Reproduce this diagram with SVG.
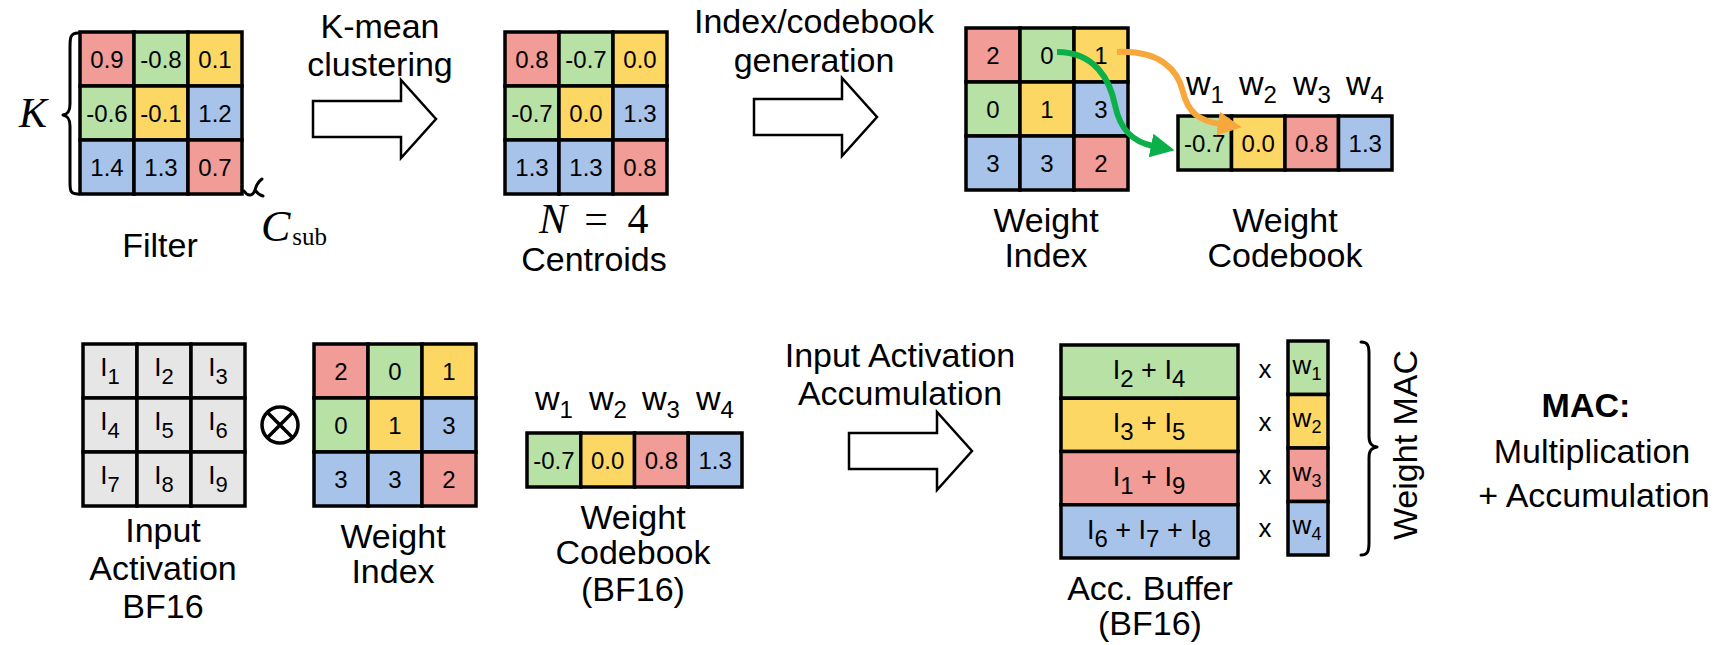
<svg xmlns="http://www.w3.org/2000/svg" width="1721" height="645" viewBox="0 0 1721 645">
  <style>
    .r{fill:#f29c97}.g{fill:#b8e1a6}.y{fill:#fdd764}.b{fill:#a7c3ea}.k{fill:#e6e6e6}
    .cell{stroke:#000;stroke-width:3.5}
    .v{font-family:"Liberation Sans",Arial,sans-serif;font-size:24px;text-anchor:middle;fill:#000}
    .lbl{font-family:"Liberation Sans",Arial,sans-serif;font-size:34px;text-anchor:middle;fill:#000}
    .math{font-family:"Liberation Serif","Times New Roman",serif;fill:#000}
    .big{fill:#fff;stroke:#000;stroke-width:2.5;stroke-linejoin:miter}
    .line{fill:none;stroke:#000;stroke-width:3;stroke-linecap:round;stroke-linejoin:round}
  </style>
  <defs>
    <path id="fatArrow" d="M0,-18 L88,-18 L88,-39 L123,0 L88,39 L88,18 L0,18 Z"/>
    <marker id="headGreen" markerUnits="userSpaceOnUse" markerWidth="26" markerHeight="26" refX="2" refY="12" orient="auto" viewBox="0 0 26 24">
      <path d="M0,0 L24,12 L0,24 Z" fill="#0bb04b"/>
    </marker>
    <marker id="headOrange" markerUnits="userSpaceOnUse" markerWidth="26" markerHeight="26" refX="2" refY="12" orient="auto" viewBox="0 0 26 24">
      <path d="M0,0 L24,12 L0,24 Z" fill="#f7a73c"/>
    </marker>
  </defs>
  <rect width="1721" height="645" fill="#fff"/>

  <!-- Filter -->
  <g id="filter">
    <g transform="translate(80,32)">
      <rect class="cell r" x="0" y="0" width="54" height="54"/><rect class="cell g" x="54" y="0" width="54" height="54"/><rect class="cell y" x="108" y="0" width="54" height="54"/>
      <rect class="cell g" x="0" y="54" width="54" height="54"/><rect class="cell y" x="54" y="54" width="54" height="54"/><rect class="cell b" x="108" y="54" width="54" height="54"/>
      <rect class="cell b" x="0" y="108" width="54" height="54"/><rect class="cell b" x="54" y="108" width="54" height="54"/><rect class="cell r" x="108" y="108" width="54" height="54"/>
      <text class="v" x="27" y="35.5">0.9</text><text class="v" x="81" y="35.5">-0.8</text><text class="v" x="135" y="35.5">0.1</text>
      <text class="v" x="27" y="89.5">-0.6</text><text class="v" x="81" y="89.5">-0.1</text><text class="v" x="135" y="89.5">1.2</text>
      <text class="v" x="27" y="143.5">1.4</text><text class="v" x="81" y="143.5">1.3</text><text class="v" x="135" y="143.5">0.7</text>
    </g>
    <!-- K brace -->
    <path class="line" d="M78,33 C70,33 70,38 70,48 L70,104 C70,111 68,114 63,115 C68,116 70,119 70,126 L70,182 C70,190 70,194 78,194" stroke-width="2.5"/>
    <text class="math" x="33" y="127" font-size="42" font-style="italic" text-anchor="middle">K</text>
    <!-- C_sub brace -->
    <path class="line" d="M244,191 C248,197 253,196 255,190 C256,186 258,182 262,179 M255,190 C257,193 260,195 263,196" stroke-width="2.5"/>
    <text class="math" x="261" y="241" font-size="44"><tspan font-style="italic">C</tspan><tspan font-size="25" dy="4" dx="2">sub</tspan></text>
    <text class="lbl" x="160" y="257">Filter</text>
  </g>

  <!-- Centroids -->
  <g id="centroids">
    <g transform="translate(505,32)">
      <rect class="cell r" x="0" y="0" width="54" height="54"/><rect class="cell g" x="54" y="0" width="54" height="54"/><rect class="cell y" x="108" y="0" width="54" height="54"/>
      <rect class="cell g" x="0" y="54" width="54" height="54"/><rect class="cell y" x="54" y="54" width="54" height="54"/><rect class="cell b" x="108" y="54" width="54" height="54"/>
      <rect class="cell b" x="0" y="108" width="54" height="54"/><rect class="cell b" x="54" y="108" width="54" height="54"/><rect class="cell r" x="108" y="108" width="54" height="54"/>
      <text class="v" x="27" y="35.5">0.8</text><text class="v" x="81" y="35.5">-0.7</text><text class="v" x="135" y="35.5">0.0</text>
      <text class="v" x="27" y="89.5">-0.7</text><text class="v" x="81" y="89.5">0.0</text><text class="v" x="135" y="89.5">1.3</text>
      <text class="v" x="27" y="143.5">1.3</text><text class="v" x="81" y="143.5">1.3</text><text class="v" x="135" y="143.5">0.8</text>
    </g>
    <text class="math" x="553" y="233" font-size="42" font-style="italic" text-anchor="middle">N</text>
    <text class="math" x="596" y="233" font-size="42" text-anchor="middle">=</text>
    <text class="math" x="638" y="233" font-size="42" text-anchor="middle">4</text>
    <text class="lbl" x="594" y="271">Centroids</text>
  </g>

  <!-- Weight index (top) -->
  <g id="weight-index-top">
    <g transform="translate(966,28)">
      <rect class="cell r" x="0" y="0" width="54" height="54"/><rect class="cell g" x="54" y="0" width="54" height="54"/><rect class="cell y" x="108" y="0" width="54" height="54"/>
      <rect class="cell g" x="0" y="54" width="54" height="54"/><rect class="cell y" x="54" y="54" width="54" height="54"/><rect class="cell b" x="108" y="54" width="54" height="54"/>
      <rect class="cell b" x="0" y="108" width="54" height="54"/><rect class="cell b" x="54" y="108" width="54" height="54"/><rect class="cell r" x="108" y="108" width="54" height="54"/>
      <text class="v" x="27" y="35.5">2</text><text class="v" x="81" y="35.5">0</text><text class="v" x="135" y="35.5">1</text>
      <text class="v" x="27" y="89.5">0</text><text class="v" x="81" y="89.5">1</text><text class="v" x="135" y="89.5">3</text>
      <text class="v" x="27" y="143.5">3</text><text class="v" x="81" y="143.5">3</text><text class="v" x="135" y="143.5">2</text>
    </g>
    <text class="lbl" x="1046" y="232">Weight</text>
    <text class="lbl" x="1046" y="267">Index</text>
  </g>

  <!-- Weight codebook (top) -->
  <g id="codebook-top">
    <g transform="translate(1178,116)">
      <rect class="cell g" x="0" y="0" width="53.5" height="54"/><rect class="cell y" x="53.5" y="0" width="53.5" height="54"/><rect class="cell r" x="107" y="0" width="53.5" height="54"/><rect class="cell b" x="160.5" y="0" width="53.5" height="54"/>
      <text class="v" x="26.75" y="35.5">-0.7</text><text class="v" x="80.25" y="35.5">0.0</text><text class="v" x="133.75" y="35.5">0.8</text><text class="v" x="187.25" y="35.5">1.3</text>
    </g>
    <text class="lbl" x="1205" y="95">w<tspan font-size="24" dy="8">1</tspan></text>
    <text class="lbl" x="1258" y="95">w<tspan font-size="24" dy="8">2</tspan></text>
    <text class="lbl" x="1312" y="95">w<tspan font-size="24" dy="8">3</tspan></text>
    <text class="lbl" x="1365" y="95">w<tspan font-size="24" dy="8">4</tspan></text>
    <text class="lbl" x="1285" y="232">Weight</text>
    <text class="lbl" x="1285" y="267">Codebook</text>
  </g>

  <!-- Step captions -->
  <g id="step-kmean">
    <text class="lbl" x="380" y="38">K-mean</text>
    <text class="lbl" x="380" y="76">clustering</text>
  </g>
  <g id="step-index">
    <text class="lbl" x="814" y="33">Index/codebook</text>
    <text class="lbl" x="814" y="72">generation</text>
  </g>

  <!-- Input activation -->
  <g id="input-activation">
    <g transform="translate(83,344)" font-family="Liberation Sans, Arial, sans-serif" text-anchor="middle">
      <rect class="cell k" x="0" y="0" width="54" height="54"/><rect class="cell k" x="54" y="0" width="54" height="54"/><rect class="cell k" x="108" y="0" width="54" height="54"/>
      <rect class="cell k" x="0" y="54" width="54" height="54"/><rect class="cell k" x="54" y="54" width="54" height="54"/><rect class="cell k" x="108" y="54" width="54" height="54"/>
      <rect class="cell k" x="0" y="108" width="54" height="54"/><rect class="cell k" x="54" y="108" width="54" height="54"/><rect class="cell k" x="108" y="108" width="54" height="54"/>
      <text x="27" y="32" font-size="26">I<tspan font-size="22" dy="8">1</tspan></text>
      <text x="81" y="32" font-size="26">I<tspan font-size="22" dy="8">2</tspan></text>
      <text x="135" y="32" font-size="26">I<tspan font-size="22" dy="8">3</tspan></text>
      <text x="27" y="86" font-size="26">I<tspan font-size="22" dy="8">4</tspan></text>
      <text x="81" y="86" font-size="26">I<tspan font-size="22" dy="8">5</tspan></text>
      <text x="135" y="86" font-size="26">I<tspan font-size="22" dy="8">6</tspan></text>
      <text x="27" y="140" font-size="26">I<tspan font-size="22" dy="8">7</tspan></text>
      <text x="81" y="140" font-size="26">I<tspan font-size="22" dy="8">8</tspan></text>
      <text x="135" y="140" font-size="26">I<tspan font-size="22" dy="8">9</tspan></text>
    </g>
    <text class="lbl" x="163" y="542">Input</text>
    <text class="lbl" x="163" y="580">Activation</text>
    <text class="lbl" x="163" y="618">BF16</text>
  </g>

  <!-- Convolution operator -->
  <g id="otimes">
    <circle cx="280" cy="425" r="18" fill="none" stroke="#000" stroke-width="3.5"/>
    <path d="M267.3,412.3 L292.7,437.7 M292.7,412.3 L267.3,437.7" stroke="#000" stroke-width="3.5"/>
  </g>

  <!-- Weight index (bottom) -->
  <g id="weight-index-bottom">
    <g transform="translate(314,344)">
      <rect class="cell r" x="0" y="0" width="54" height="54"/><rect class="cell g" x="54" y="0" width="54" height="54"/><rect class="cell y" x="108" y="0" width="54" height="54"/>
      <rect class="cell g" x="0" y="54" width="54" height="54"/><rect class="cell y" x="54" y="54" width="54" height="54"/><rect class="cell b" x="108" y="54" width="54" height="54"/>
      <rect class="cell b" x="0" y="108" width="54" height="54"/><rect class="cell b" x="54" y="108" width="54" height="54"/><rect class="cell r" x="108" y="108" width="54" height="54"/>
      <text class="v" x="27" y="35.5">2</text><text class="v" x="81" y="35.5">0</text><text class="v" x="135" y="35.5">1</text>
      <text class="v" x="27" y="89.5">0</text><text class="v" x="81" y="89.5">1</text><text class="v" x="135" y="89.5">3</text>
      <text class="v" x="27" y="143.5">3</text><text class="v" x="81" y="143.5">3</text><text class="v" x="135" y="143.5">2</text>
    </g>
    <text class="lbl" x="393" y="548">Weight</text>
    <text class="lbl" x="393" y="583">Index</text>
  </g>

  <!-- Weight codebook (bottom) -->
  <g id="codebook-bottom">
    <g transform="translate(527,433)">
      <rect class="cell g" x="0" y="0" width="53.75" height="54"/><rect class="cell y" x="53.75" y="0" width="53.75" height="54"/><rect class="cell r" x="107.5" y="0" width="53.75" height="54"/><rect class="cell b" x="161.25" y="0" width="53.75" height="54"/>
      <text class="v" x="26.9" y="35.5">-0.7</text><text class="v" x="80.6" y="35.5">0.0</text><text class="v" x="134.4" y="35.5">0.8</text><text class="v" x="188.1" y="35.5">1.3</text>
    </g>
    <text class="lbl" x="554" y="410">w<tspan font-size="24" dy="8">1</tspan></text>
    <text class="lbl" x="608" y="410">w<tspan font-size="24" dy="8">2</tspan></text>
    <text class="lbl" x="661" y="410">w<tspan font-size="24" dy="8">3</tspan></text>
    <text class="lbl" x="715" y="410">w<tspan font-size="24" dy="8">4</tspan></text>
    <text class="lbl" x="633" y="529">Weight</text>
    <text class="lbl" x="633" y="564">Codebook</text>
    <text class="lbl" x="633" y="601">(BF16)</text>
  </g>

  <g id="step-accumulate">
    <text class="lbl" x="900" y="367">Input Activation</text>
    <text class="lbl" x="900" y="405">Accumulation</text>
  </g>

  <!-- Accumulation buffer -->
  <g id="acc-buffer" font-family="Liberation Sans, Arial, sans-serif" text-anchor="middle">
    <rect class="cell g" x="1061" y="345" width="177" height="53.25"/>
    <rect class="cell y" x="1061" y="398.25" width="177" height="53.25"/>
    <rect class="cell r" x="1061" y="451.5" width="177" height="53.25"/>
    <rect class="cell b" x="1061" y="504.75" width="177" height="53.25"/>
    <text x="1149" y="379" font-size="27">I<tspan font-size="24" dy="8">2</tspan><tspan dy="-8"> + I</tspan><tspan font-size="24" dy="8">4</tspan></text>
    <text x="1149" y="432" font-size="27">I<tspan font-size="24" dy="8">3</tspan><tspan dy="-8"> + I</tspan><tspan font-size="24" dy="8">5</tspan></text>
    <text x="1149" y="486" font-size="27">I<tspan font-size="24" dy="8">1</tspan><tspan dy="-8"> + I</tspan><tspan font-size="24" dy="8">9</tspan></text>
    <text x="1149" y="539" font-size="27">I<tspan font-size="24" dy="8">6</tspan><tspan dy="-8"> + I</tspan><tspan font-size="24" dy="8">7</tspan><tspan dy="-8"> + I</tspan><tspan font-size="24" dy="8">8</tspan></text>
    <text class="lbl" x="1150" y="600">Acc. Buffer</text>
    <text class="lbl" x="1150" y="635">(BF16)</text>
  </g>

  <g id="multiply-signs" font-family="Liberation Sans, Arial, sans-serif" font-size="26" text-anchor="middle">
    <text x="1265" y="378">x</text>
    <text x="1265" y="431">x</text>
    <text x="1265" y="484">x</text>
    <text x="1265" y="537">x</text>
  </g>

  <!-- Weight column -->
  <g id="weight-column" font-family="Liberation Sans, Arial, sans-serif" text-anchor="middle">
    <rect class="cell g" x="1288" y="341" width="40" height="53.5"/>
    <rect class="cell y" x="1288" y="394.5" width="40" height="53.5"/>
    <rect class="cell r" x="1288" y="448" width="40" height="53.5"/>
    <rect class="cell b" x="1288" y="501.5" width="40" height="53.5"/>
    <text x="1307" y="374" font-size="26">w<tspan font-size="18" dy="6">1</tspan></text>
    <text x="1307" y="427" font-size="26">w<tspan font-size="18" dy="6">2</tspan></text>
    <text x="1307" y="481" font-size="26">w<tspan font-size="18" dy="6">3</tspan></text>
    <text x="1307" y="534" font-size="26">w<tspan font-size="18" dy="6">4</tspan></text>
  </g>

  <g id="weight-mac">
    <path class="line" d="M1361,342 C1368,342 1369,346 1369,354 L1369,436 C1369,443 1371,446 1377,447 C1371,448 1369,451 1369,458 L1369,542 C1369,551 1368,555 1361,555" stroke-width="2.5"/>
    <text class="lbl" transform="translate(1417,445) rotate(-90)" x="0" y="0">Weight MAC</text>
  </g>

  <g id="mac-note">
    <text class="lbl" x="1586" y="417" font-weight="bold">MAC:</text>
    <text class="lbl" x="1592" y="463" font-size="33">Multiplication</text>
    <text class="lbl" x="1594" y="507" font-size="33">+ Accumulation</text>
  </g>

  <!-- Connectors -->
  <g id="connectors">
    <use href="#fatArrow" class="big" transform="translate(313,119)"/>
    <use href="#fatArrow" class="big" transform="translate(754,117)"/>
    <use href="#fatArrow" class="big" transform="translate(849,451)"/>
    <path d="M1057,52 C1095,52 1110,80 1115,105 C1120,130 1133,142 1153,146" fill="none" stroke="#0bb04b" stroke-width="6" marker-end="url(#headGreen)"/>
    <path d="M1117,52 C1160,50 1178,70 1183,92 C1188,113 1200,121 1220,124" fill="none" stroke="#f7a73c" stroke-width="6" marker-end="url(#headOrange)"/>
  </g>
</svg>
